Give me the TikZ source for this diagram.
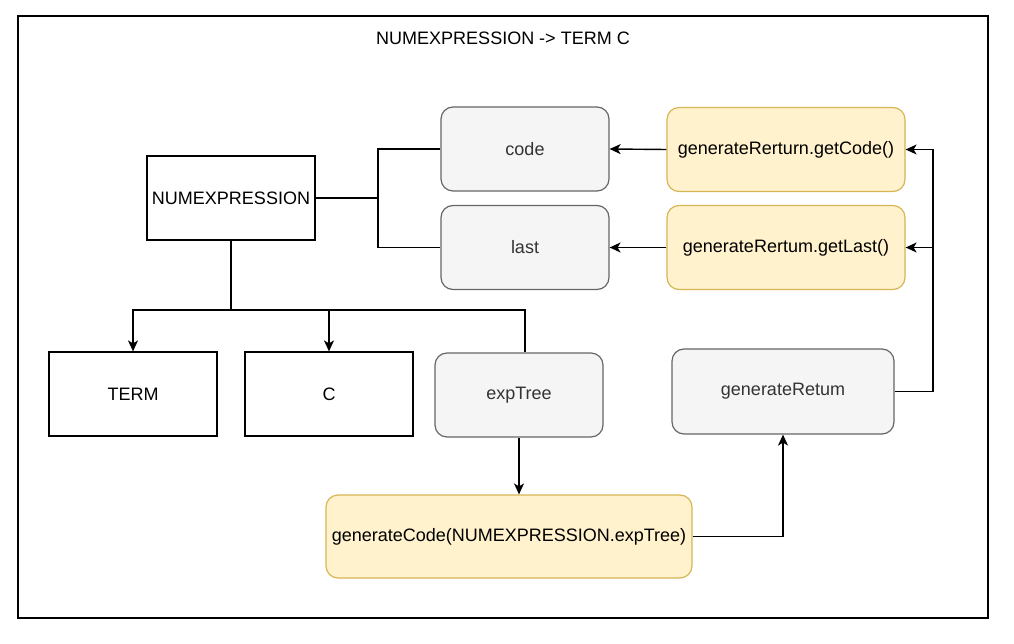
\documentclass[tikz,border=0pt]{standalone}
\usepackage{fontspec}
\setmainfont{Liberation Sans}
\usetikzlibrary{arrows.meta}
\definecolor{gfill}{HTML}{F5F5F5}
\definecolor{gline}{HTML}{666666}
\definecolor{gtext}{HTML}{333333}
\definecolor{yfill}{HTML}{FFF2CC}
\definecolor{yline}{HTML}{D6B656}
\begin{document}
\begin{tikzpicture}[x=1pt,y=-1pt,
  font=\fontsize{18}{22}\selectfont,
  plainbox/.style={draw=black,fill=white,line width=1.2pt,inner sep=0pt,minimum width=168pt,minimum height=84pt},
  graybox/.style={draw=gline,fill=gfill,text=gtext,line width=1.2pt,rounded corners=12pt,inner sep=0pt,minimum width=168pt,minimum height=84pt},
  yelbox/.style={draw=yline,fill=yfill,line width=1.2pt,rounded corners=12pt,inner sep=0pt,minimum width=238pt,minimum height=84pt},
  conn/.style={line width=1.4pt,draw=black},
  arr/.style={conn,-{Stealth[length=11pt,width=10pt,inset=3pt]}}]
\useasboundingbox (0,0) rectangle (1014,644);
\node[draw=black,line width=1.6pt,minimum width=970pt,minimum height=602pt,inner sep=0pt] (frame) at (503,317) {};
\node (title) at (503,38) {NUMEXPRESSION -> TERM C};
\node[plainbox] (num) at (231,198) {NUMEXPRESSION};
\node[graybox] (code) at (525,149) {code};
\node[graybox] (last) at (525,247.5) {last};
\node[yelbox] (getcode) at (786,149.5) {generateRerturn.getCode()};
\node[yelbox] (getlast) at (786,247.5) {generateRertum.getLast()};
\node[plainbox] (term) at (133,394) {TERM};
\node[plainbox] (c) at (329,394) {C};
\node[graybox] (exptree) at (519,395) {expTree};
\node[graybox,minimum width=222pt,minimum height=85pt] (genret) at (783,391.5) {generateRetum};
\node[yelbox,minimum width=366pt,minimum height=83pt] (gencode) at (509,536.5) {generateCode(NUMEXPRESSION.expTree)};
\coordinate (j1) at (378,198);
\coordinate (j2) at (231,310);
\coordinate (j3) at (933,391.5);
\draw[conn] (num.east) -- (j1);
\draw[conn] (code.west) -| (j1) |- (last.west);
\draw[conn] (num.south) -- (j2);
\draw[arr] (j2) -| (term.north);
\draw[arr] (j2) -| (c.north);
\draw[conn] (j2) -| ([xshift=6pt]exptree.north);
\draw[arr] (getcode.west) -- (code.east);
\draw[arr] (getlast.west) -- (last.east);
\draw[arr] (exptree.south) -- (exptree.south |- gencode.north);
\draw[arr] (gencode.east) -| (genret.south);
\draw[conn] (genret.east) -- (j3);
\draw[arr] (j3) |- (getcode.east);
\draw[arr] (j3) |- (getlast.east);
\end{tikzpicture}
\end{document}
